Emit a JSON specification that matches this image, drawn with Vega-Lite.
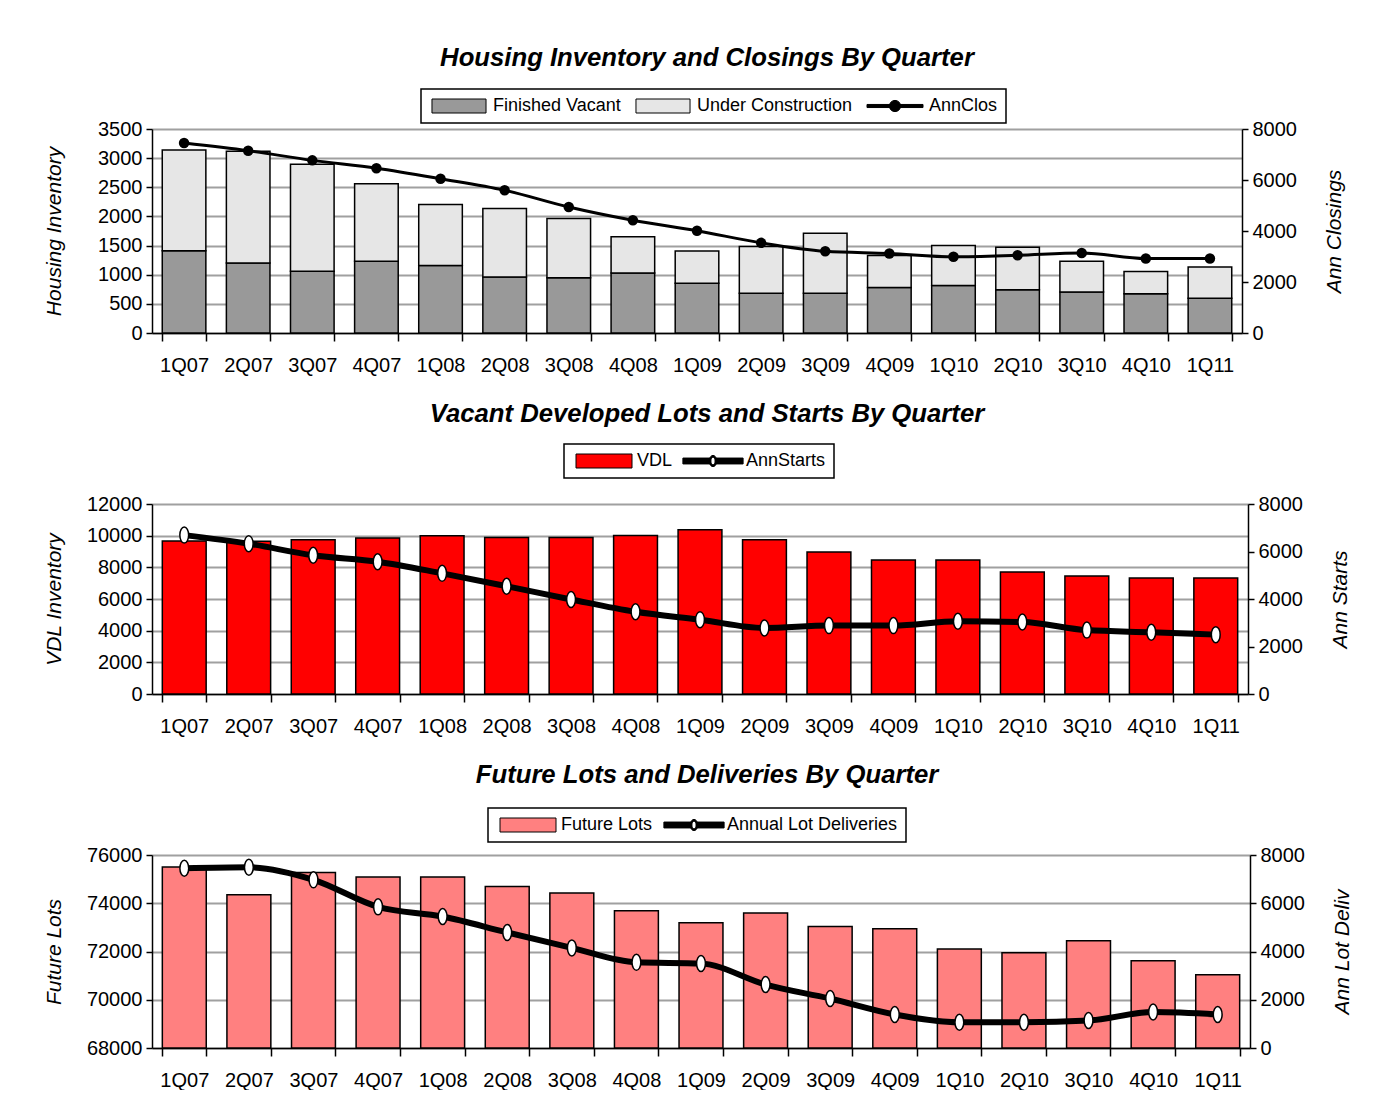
{
  "$schema": "https://vega.github.io/schema/vega-lite/v6.json",
  "background": "white",
  "padding": {"left": 43, "top": 44, "right": 10, "bottom": 0},
  "datasets": {
    "d": [
      {"q": "1Q07", "Finished Vacant": 1410, "Under Construction": 1730, "clos": 7450, "vdl": 9670, "starts": 6690, "fl": 75500, "deliv": 7450},
      {"q": "2Q07", "Finished Vacant": 1200, "Under Construction": 1920, "clos": 7150, "vdl": 9650, "starts": 6330, "fl": 74350, "deliv": 7490},
      {"q": "3Q07", "Finished Vacant": 1060, "Under Construction": 1835, "clos": 6770, "vdl": 9740, "starts": 5840, "fl": 75270, "deliv": 6970},
      {"q": "4Q07", "Finished Vacant": 1230, "Under Construction": 1330, "clos": 6460, "vdl": 9860, "starts": 5570, "fl": 75090, "deliv": 5850},
      {"q": "1Q08", "Finished Vacant": 1160, "Under Construction": 1045, "clos": 6050, "vdl": 9990, "starts": 5080, "fl": 75090, "deliv": 5450},
      {"q": "2Q08", "Finished Vacant": 960, "Under Construction": 1178, "clos": 5600, "vdl": 9880, "starts": 4540, "fl": 74690, "deliv": 4790},
      {"q": "3Q08", "Finished Vacant": 950, "Under Construction": 1015, "clos": 4940, "vdl": 9880, "starts": 3980, "fl": 74430, "deliv": 4150},
      {"q": "4Q08", "Finished Vacant": 1030, "Under Construction": 622, "clos": 4420, "vdl": 10010, "starts": 3460, "fl": 73690, "deliv": 3550},
      {"q": "1Q09", "Finished Vacant": 855, "Under Construction": 550, "clos": 4010, "vdl": 10370, "starts": 3130, "fl": 73190, "deliv": 3500},
      {"q": "2Q09", "Finished Vacant": 680, "Under Construction": 802, "clos": 3535, "vdl": 9740, "starts": 2780, "fl": 73600, "deliv": 2630},
      {"q": "3Q09", "Finished Vacant": 680, "Under Construction": 1032, "clos": 3205, "vdl": 8970, "starts": 2880, "fl": 73040, "deliv": 2050},
      {"q": "4Q09", "Finished Vacant": 780, "Under Construction": 548, "clos": 3120, "vdl": 8470, "starts": 2880, "fl": 72940, "deliv": 1390},
      {"q": "1Q10", "Finished Vacant": 815, "Under Construction": 685, "clos": 2990, "vdl": 8470, "starts": 3060, "fl": 72100, "deliv": 1070},
      {"q": "2Q10", "Finished Vacant": 740, "Under Construction": 732, "clos": 3050, "vdl": 7700, "starts": 3030, "fl": 71950, "deliv": 1070},
      {"q": "3Q10", "Finished Vacant": 705, "Under Construction": 525, "clos": 3140, "vdl": 7450, "starts": 2690, "fl": 72450, "deliv": 1140},
      {"q": "4Q10", "Finished Vacant": 672, "Under Construction": 384, "clos": 2920, "vdl": 7320, "starts": 2600, "fl": 71620, "deliv": 1490},
      {"q": "1Q11", "Finished Vacant": 598, "Under Construction": 534, "clos": 2920, "vdl": 7320, "starts": 2500, "fl": 71040, "deliv": 1390}
    ]
  },
  "config": {
    "font": "Liberation Sans",
    "view": {"stroke": null},
    "axis": {
      "labelFont": "Liberation Sans", "labelFontSize": 20, "labelColor": "black",
      "titleFont": "Liberation Sans", "titleFontSize": 21, "titleFontStyle": "italic", "titleFontWeight": "normal", "titleColor": "black",
      "domainColor": "black", "domainWidth": 1.5, "tickColor": "black", "tickWidth": 1.5, "tickSize": 6,
      "gridColor": "#a0a0a0", "gridWidth": 2, "labelPadding": 4
    },
    "axisQuantitative": {"format": "d"},
    "axisX": {"labelPadding": 14, "tickSize": 8},
    "title": {"font": "Liberation Sans", "fontSize": 25.7, "fontStyle": "italic", "fontWeight": "bold", "color": "black", "anchor": "middle"},
    "legend": {
      "labelFont": "Liberation Sans", "labelFontSize": 18, "labelColor": "black", "labelLimit": 400,
      "strokeColor": "black", "fillColor": "white", "padding": 8, "strokeWidth": 1.5,
      "symbolSize": 196, "direction": "horizontal", "orient": "none",
      "symbolStrokeColor": "black", "symbolStrokeWidth": 1, "symbolOpacity": 1
    }
  },
  "columns": 1,
  "spacing": 25,
  "resolve": {"scale": {"color": "independent"}, "legend": {"color": "independent"}},
  "concat": [
    {
      "width": 1090, "height": 204,
      "title": {"text": "Housing Inventory and Closings By Quarter", "offset": 17, "dx": 10},
      "data": {"name": "d"},
      "layer": [
        {
          "transform": [{"fold": ["Finished Vacant", "Under Construction"], "as": ["series", "v"]}],
          "mark": {"type": "bar", "stroke": "black", "strokeWidth": 1.5},
          "encoding": {
            "x": {"field": "q", "type": "ordinal", "sort": null, "scale": {"paddingInner": 0.32, "paddingOuter": 0.16},
                  "axis": {"title": null, "labelAngle": 0, "tickBand": "extent", "grid": false}},
            "y": {"field": "v", "type": "quantitative", "stack": "zero", "scale": {"domain": [0, 3500]},
                  "axis": {"title": "Housing Inventory", "values": [0, 500, 1000, 1500, 2000, 2500, 3000, 3500], "grid": true, "orient": "left", "titlePadding": 33}},
            "color": {"field": "series", "type": "nominal",
                      "scale": {"domain": ["Finished Vacant", "Under Construction", "AnnClos"], "range": ["#999999", "#e6e6e6", "black"]},
                      "legend": {"title": null, "legendX": 269, "legendY": -40,
                        "symbolOffset": 21, "labelOffset": 25, "columnPadding": 12,
                        "symbolType": {"expr": "datum.label === 'AnnClos' ? 'M-4,-0.22H4V0.22H-4Z M0.8,0A0.8,0.8 0 1,1 -0.8,0A0.8,0.8 0 1,1 0.8,0Z' : 'M-3.86,-1H3.86V1H-3.86Z'"}}},
            "order": {"field": "series", "sort": "ascending"}
          }
        },
        {
          "encoding": {
            "x": {"field": "q", "type": "ordinal", "sort": null},
            "y": {"field": "clos", "type": "quantitative", "scale": {"domain": [0, 8000]},
                  "axis": {"orient": "right", "title": "Ann Closings", "titleAngle": 270, "titleBaseline": "top", "values": [0, 2000, 4000, 6000, 8000], "grid": false, "titlePadding": 27}}
          },
          "layer": [
            {"mark": {"type": "line", "interpolate": "monotone", "color": "black", "strokeWidth": 3}},
            {"mark": {"type": "point", "shape": "circle", "filled": true, "color": "black", "size": 110, "opacity": 1}}
          ]
        }
      ],
      "resolve": {"scale": {"y": "independent"}, "axis": {"y": "independent"}}
    },
    {
      "width": 1096, "height": 190,
      "title": {"text": "Vacant Developed Lots and Starts By Quarter", "offset": 16, "dx": 7},
      "data": {"name": "d"},
      "layer": [
        {
          "mark": {"type": "bar", "stroke": "black", "strokeWidth": 1.5},
          "encoding": {
            "x": {"field": "q", "type": "ordinal", "sort": null, "scale": {"paddingInner": 0.32, "paddingOuter": 0.16},
                  "axis": {"title": null, "labelAngle": 0, "tickBand": "extent", "grid": false}},
            "y": {"field": "vdl", "type": "quantitative", "scale": {"domain": [0, 12000]},
                  "axis": {"title": "VDL Inventory", "values": [0, 2000, 4000, 6000, 8000, 10000, 12000], "grid": true, "orient": "left", "titlePadding": 22}},
            "color": {"datum": "VDL", "type": "nominal",
                      "scale": {"domain": ["VDL", "AnnStarts"], "range": ["#ff0000", "black"]},
                      "legend": {"title": null, "legendX": 412, "legendY": -60,
                        "symbolOffset": 23, "labelOffset": 24, "columnPadding": 7,
                        "symbolType": {"expr": "datum.label === 'AnnStarts' ? 'M-4.3,-0.42H-0.45V0.42H-4.3Z M0.45,-0.42H4.3V0.42H0.45Z M0.55,0A0.55,0.8 0 1,1 -0.55,0A0.55,0.8 0 1,1 0.55,0Z M0.3,0A0.3,0.55 0 1,0 -0.3,0A0.3,0.55 0 1,0 0.3,0Z' : 'M-4,-1H4V1H-4Z'"}}}
          }
        },
        {
          "encoding": {
            "x": {"field": "q", "type": "ordinal", "sort": null},
            "y": {"field": "starts", "type": "quantitative", "scale": {"domain": [0, 8000]},
                  "axis": {"orient": "right", "title": "Ann Starts", "titleAngle": 270, "titleBaseline": "top", "values": [0, 2000, 4000, 6000, 8000], "grid": false, "titlePadding": 27}}
          },
          "layer": [
            {"mark": {"type": "line", "interpolate": "monotone", "color": "black", "strokeWidth": 6}},
            {"mark": {"type": "point", "shape": "M0.55,0A0.55,1 0 1,1 -0.55,0A0.55,1 0 1,1 0.55,0Z", "filled": true, "fill": "white", "stroke": "black", "strokeWidth": 1.5, "size": 256, "opacity": 1}}
          ]
        }
      ],
      "resolve": {"scale": {"y": "independent"}, "axis": {"y": "independent"}}
    },
    {
      "width": 1098, "height": 193,
      "title": {"text": "Future Lots and Deliveries By Quarter", "offset": 19, "dx": 6},
      "data": {"name": "d"},
      "layer": [
        {
          "mark": {"type": "bar", "stroke": "black", "strokeWidth": 1.5},
          "encoding": {
            "x": {"field": "q", "type": "ordinal", "sort": null, "scale": {"paddingInner": 0.32, "paddingOuter": 0.16},
                  "axis": {"title": null, "labelAngle": 0, "tickBand": "extent", "grid": false}},
            "y": {"field": "fl", "type": "quantitative", "scale": {"domain": [68000, 76000], "zero": false},
                  "axis": {"title": "Future Lots", "values": [68000, 70000, 72000, 74000, 76000], "grid": true, "orient": "left", "titlePadding": 22}},
            "y2": {"datum": 68000},
            "color": {"datum": "Future Lots", "type": "nominal",
                      "scale": {"domain": ["Future Lots", "Annual Lot Deliveries"], "range": ["#ff8080", "black"]},
                      "legend": {"title": null, "legendX": 336, "legendY": -47,
                        "symbolOffset": 23, "labelOffset": 24, "columnPadding": 8,
                        "symbolType": {"expr": "datum.label === 'Annual Lot Deliveries' ? 'M-4.3,-0.42H-0.45V0.42H-4.3Z M0.45,-0.42H4.3V0.42H0.45Z M0.55,0A0.55,0.8 0 1,1 -0.55,0A0.55,0.8 0 1,1 0.55,0Z M0.3,0A0.3,0.55 0 1,0 -0.3,0A0.3,0.55 0 1,0 0.3,0Z' : 'M-4,-1H4V1H-4Z'"}}}
          }
        },
        {
          "encoding": {
            "x": {"field": "q", "type": "ordinal", "sort": null},
            "y": {"field": "deliv", "type": "quantitative", "scale": {"domain": [0, 8000]},
                  "axis": {"orient": "right", "title": "Ann Lot Deliv", "titleAngle": 270, "titleBaseline": "top", "values": [0, 2000, 4000, 6000, 8000], "grid": false, "titlePadding": 27}}
          },
          "layer": [
            {"mark": {"type": "line", "interpolate": "monotone", "color": "black", "strokeWidth": 6}},
            {"mark": {"type": "point", "shape": "M0.55,0A0.55,1 0 1,1 -0.55,0A0.55,1 0 1,1 0.55,0Z", "filled": true, "fill": "white", "stroke": "black", "strokeWidth": 1.5, "size": 256, "opacity": 1}}
          ]
        }
      ],
      "resolve": {"scale": {"y": "independent"}, "axis": {"y": "independent"}}
    }
  ]
}
